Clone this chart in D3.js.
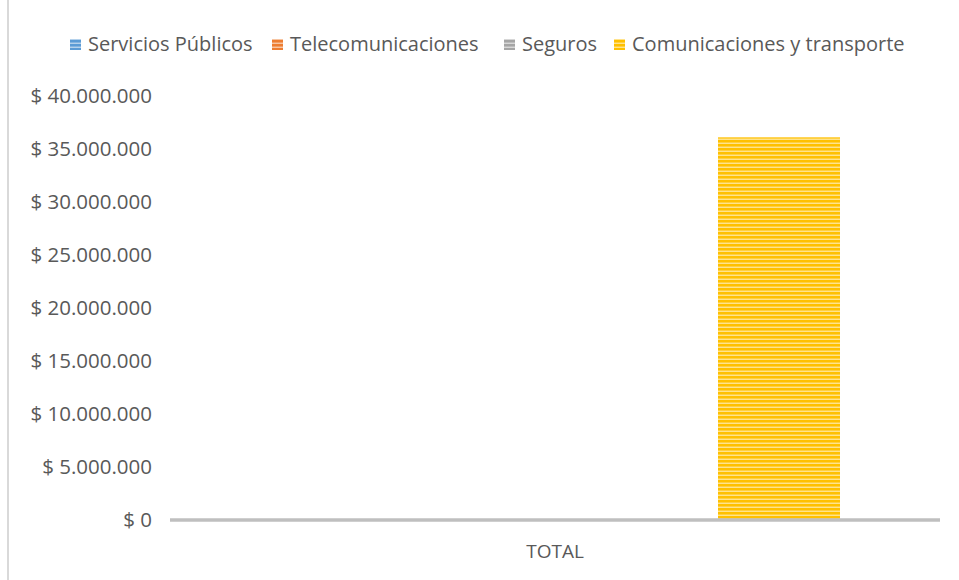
<!DOCTYPE html>
<html lang="es">
<head>
<meta charset="utf-8">
<title>Gastos por sector</title>
<script src="https://d3js.org/d3.v7.min.js"></script>
<style>
    body { margin: 0; background: #fff; }
    svg text { font-family: "Open Sans", "Noto Sans", sans-serif; fill: #595959; }
</style>
</head>
<body>
<div id="chart"></div>
<script>
var categories = ["TOTAL"];
var seriesNames = ["Servicios Públicos", "Telecomunicaciones", "Seguros", "Comunicaciones y transporte"];
var seriesColors = ["#5b9bd5", "#ed7d31", "#a5a5a5", "#ffc000"];
var seriesValues = [0, 0, 0, 36100000];
var yTicks = [0, 5000000, 10000000, 15000000, 20000000, 25000000, 30000000, 35000000, 40000000];

var width = 959, height = 580;
var margin = {top: 96, right: 19, bottom: 60, left: 170};

var svg = d3.select("#chart").append("svg")
    .attr("width", width)
    .attr("height", height);

// striped fills like the original
var defs = svg.append("defs");
seriesColors.forEach(function(c, i) {
    var light = d3.interpolateRgb(c, "#fff")(0.55);
    var mid = d3.interpolateRgb(c, "#fff")(0.25);
    var p = defs.append("pattern")
        .attr("id", "stripe" + i)
        .attr("patternUnits", "userSpaceOnUse")
        .attr("width", 8).attr("height", 4);
    p.append("rect").attr("width", 8).attr("height", 4).attr("fill", c);
    p.append("rect").attr("y", 2).attr("width", 8).attr("height", 1).attr("fill", mid);
    p.append("rect").attr("y", 3).attr("width", 8).attr("height", 1).attr("fill", light);
});

// left frame line
svg.append("line")
    .attr("x1", 8).attr("x2", 8).attr("y1", 0).attr("y2", height)
    .attr("stroke", "#d9d9d9").attr("stroke-width", 2);

var y = d3.scaleLinear()
    .domain([0, 40000000])
    .range([520, margin.top]);

var x0 = d3.scaleBand()
    .domain(categories)
    .range([margin.left, width - margin.right]);

var x1 = d3.scaleBand()
    .domain(seriesNames)
    .range([182, 670]);

function fmt(v) {
    return "$ " + d3.format(",")(v).replace(/,/g, ".");
}

// y labels
svg.append("g").selectAll("text")
    .data(yTicks)
    .enter().append("text")
    .attr("x", 152)
    .attr("y", function(d) { return y(d); })
    .attr("dy", "0.35em")
    .attr("text-anchor", "end")
    .style("font-size", "20.5px")
    .text(fmt);

// bars
var data = seriesNames.map(function(s, i) { return {name: s, value: seriesValues[i], i: i}; });
svg.append("g").selectAll("rect")
    .data(data)
    .enter().append("rect")
    .attr("x", function(d) { return x0("TOTAL") + x1(d.name); })
    .attr("width", x1.bandwidth())
    .attr("y", function(d) { return y(d.value); })
    .attr("height", function(d) { return y(0) - y(d.value); })
    .attr("fill", function(d) { return "url(#stripe" + d.i + ")"; });

// x axis line
svg.append("line")
    .attr("x1", x0.range()[0]).attr("x2", x0.range()[1])
    .attr("y1", y(0)).attr("y2", y(0))
    .attr("stroke", "#bfbfbf").attr("stroke-width", 3.5);

svg.append("g").selectAll("text")
    .data(categories)
    .enter().append("text")
    .attr("x", function(d) { return x0(d) + x0.bandwidth() / 2; })
    .attr("y", 551)
    .attr("dy", "0.35em")
    .attr("text-anchor", "middle")
    .style("font-size", "19px")
    .text(function(d) { return d; });

// legend
var legendX = [70, 272, 504, 614];
var legend = svg.append("g").selectAll("g")
    .data(data)
    .enter().append("g")
    .attr("transform", function(d) { return "translate(" + legendX[d.i] + ",44)"; });
legend.append("rect")
    .attr("x", 0).attr("y", -5)
    .attr("width", 11).attr("height", 11)
    .attr("fill", function(d) { return "url(#stripe" + d.i + ")"; });
legend.append("text")
    .attr("x", 18)
    .attr("dy", "0.35em")
    .style("font-size", "20px")
    .text(function(d) { return d.name; });
</script>
</body>
</html>
